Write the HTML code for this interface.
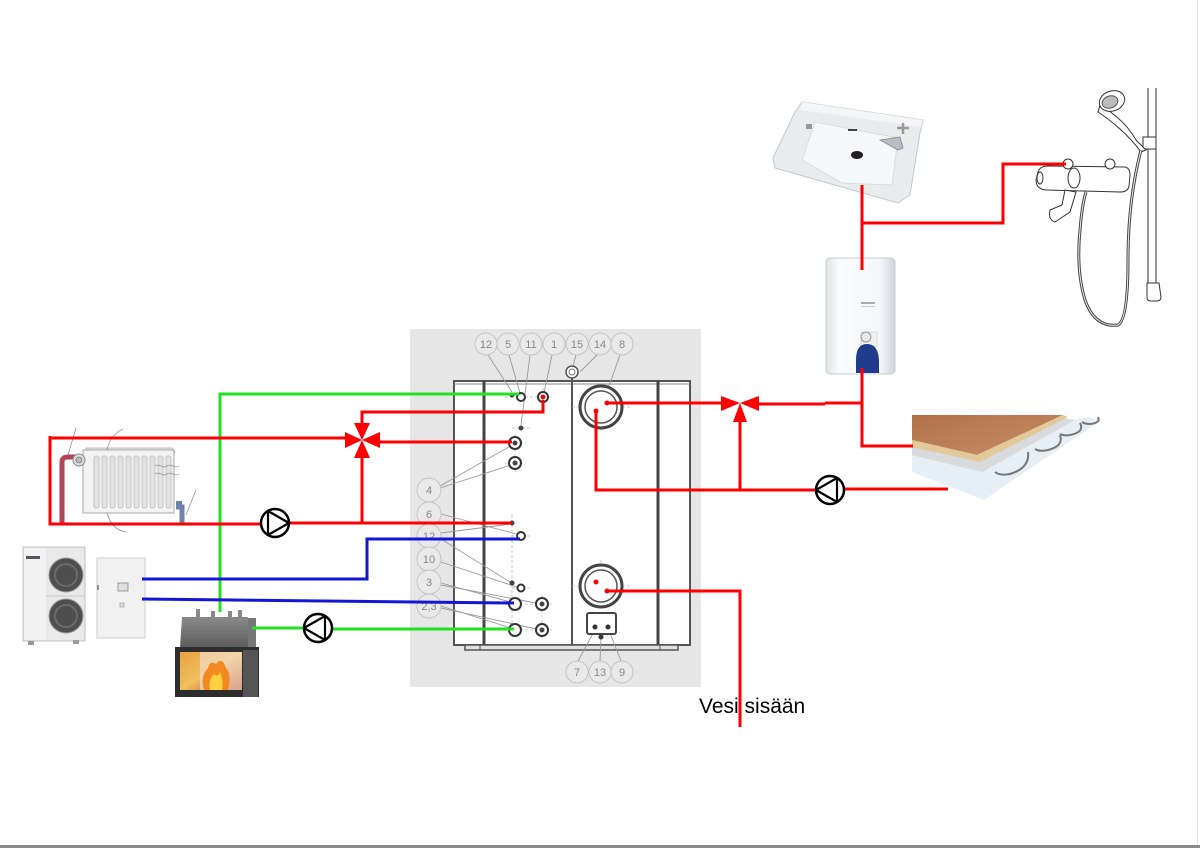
<!DOCTYPE html>
<html><head><meta charset="utf-8"><style>
html,body{margin:0;padding:0;background:#fff;}
svg{display:block;}
text{font-family:"Liberation Sans",Arial,sans-serif;}
</style></head><body>
<svg width="1200" height="848" viewBox="0 0 1200 848" xmlns="http://www.w3.org/2000/svg">
<defs>
<linearGradient id="radpipe" x1="0" x2="1" y1="0" y2="0"><stop offset="0" stop-color="#b8404c"/><stop offset="0.6" stop-color="#9a6a80"/><stop offset="1" stop-color="#6a80b0"/></linearGradient>
<linearGradient id="fire" x1="0" x2="1" y1="0" y2="1"><stop offset="0" stop-color="#e8a040"/><stop offset="0.5" stop-color="#f0c060"/><stop offset="1" stop-color="#b85020"/></linearGradient>
<linearGradient id="fpTop" x1="0" x2="0" y1="0" y2="1"><stop offset="0" stop-color="#8a8a8a"/><stop offset="1" stop-color="#5c5c5c"/></linearGradient>
<linearGradient id="wood" x1="0" x2="1" y1="0" y2="1"><stop offset="0" stop-color="#b07048"/><stop offset="1" stop-color="#c89068"/></linearGradient>
<linearGradient id="heater" x1="0" x2="1"><stop offset="0" stop-color="#dfe3e8"/><stop offset="0.2" stop-color="#fafbfc"/><stop offset="0.8" stop-color="#f4f6f8"/><stop offset="1" stop-color="#cfd4da"/></linearGradient>
</defs>
<rect width="1200" height="848" fill="#fff"/>
<!-- page edges -->
<line x1="1197.5" y1="0" x2="1197.5" y2="845" stroke="#e2e2e2" stroke-width="1"/>
<rect x="0" y="845" width="1200" height="3" fill="#8a8a8a"/>

<!-- ===== TANK ===== -->
<rect x="410" y="329" width="291" height="358" fill="#e6e6e6"/>
<rect x="454" y="381" width="236" height="264" fill="#fff" stroke="#555" stroke-width="2"/>
<line x1="454" y1="384" x2="690" y2="384" stroke="#888" stroke-width="1"/>
<line x1="484" y1="381" x2="484" y2="645" stroke="#444" stroke-width="3"/>
<line x1="572" y1="378" x2="572" y2="645" stroke="#555" stroke-width="2"/>
<line x1="658" y1="381" x2="658" y2="645" stroke="#444" stroke-width="3"/>
<rect x="465" y="645" width="213" height="5" fill="#e0e0e0" stroke="#555" stroke-width="1.5"/>
<line x1="480" y1="645" x2="480" y2="650" stroke="#555"/><line x1="660" y1="645" x2="660" y2="650" stroke="#555"/>
<!-- 15 fitting -->
<circle cx="572" cy="372" r="6" fill="#fff" stroke="#555" stroke-width="1.5"/>
<circle cx="572" cy="372" r="3" fill="none" stroke="#777" stroke-width="1"/>

<!-- leader lines -->
<g stroke="#9a9a9a" stroke-width="0.9" fill="none">
<line x1="488" y1="355" x2="512" y2="392"/>
<line x1="509" y1="355" x2="520" y2="393"/>
<line x1="530" y1="355" x2="521" y2="425"/>
<line x1="552" y1="355" x2="544" y2="393"/>
<line x1="576" y1="355" x2="573" y2="366"/>
<line x1="597" y1="355" x2="580" y2="372"/>
<line x1="620" y1="355" x2="604" y2="400"/>
<line x1="440" y1="486" x2="514" y2="444"/>
<line x1="440" y1="488" x2="514" y2="464"/>
<line x1="441" y1="514" x2="520" y2="535"/>
<line x1="441" y1="533" x2="511" y2="524"/>
<line x1="441" y1="539" x2="510" y2="582"/>
<line x1="441" y1="562" x2="520" y2="588"/>
<line x1="441" y1="583" x2="514" y2="603"/>
<line x1="441" y1="585" x2="541" y2="604"/>
<line x1="441" y1="606" x2="514" y2="629"/>
<line x1="441" y1="608" x2="541" y2="630"/>
<line x1="578" y1="661" x2="596" y2="628"/>
<line x1="600" y1="661" x2="601" y2="638"/>
<line x1="621" y1="661" x2="608" y2="628"/>
</g>
<!-- crosshairs -->
<g stroke="#bbb" stroke-width="0.8" stroke-dasharray="3,2" fill="none">
<line x1="505" y1="397" x2="552" y2="397"/><line x1="543" y1="388" x2="543" y2="406"/>
<line x1="512" y1="428" x2="530" y2="428"/>
<line x1="505" y1="443" x2="526" y2="443"/><line x1="515" y1="434" x2="515" y2="472"/>
<line x1="505" y1="463" x2="526" y2="463"/>
<line x1="572" y1="407" x2="630" y2="407"/><line x1="601" y1="383" x2="601" y2="433"/>
<line x1="572" y1="586" x2="630" y2="586"/><line x1="601" y1="560" x2="601" y2="610"/>
<line x1="512" y1="515" x2="512" y2="640"/><line x1="542" y1="595" x2="542" y2="640"/>
<line x1="505" y1="604" x2="552" y2="604"/><line x1="505" y1="630" x2="552" y2="630"/>
<line x1="512" y1="536" x2="530" y2="536"/><line x1="512" y1="588" x2="530" y2="588"/>
</g>
<!-- ports -->
<g fill="#fff" stroke="#333" stroke-width="2">
<circle cx="521" cy="397" r="4"/>
<circle cx="543" cy="397" r="5"/>
<circle cx="515" cy="443" r="6"/>
<circle cx="515" cy="463" r="6"/>
<circle cx="521" cy="536" r="4"/>
<circle cx="521" cy="588" r="3.5"/>
<circle cx="515" cy="604" r="6"/>
<circle cx="542" cy="604" r="6"/>
<circle cx="515" cy="630" r="6"/>
<circle cx="542" cy="630" r="6"/>
</g>
<g fill="#444">
<circle cx="512" cy="395" r="2.5"/>
<circle cx="521" cy="428" r="2.5"/>
<circle cx="512" cy="523" r="2.5"/>
<circle cx="512" cy="583" r="2.5"/>
<circle cx="515" cy="443" r="2.5"/><circle cx="515" cy="463" r="2.5"/>
<circle cx="542" cy="604" r="2.5"/><circle cx="542" cy="630" r="2.5"/>
</g>
<!-- big coils -->
<circle cx="601" cy="407" r="21" fill="#fff" stroke="#444" stroke-width="3"/>
<circle cx="601" cy="407" r="16" fill="#fff" stroke="#555" stroke-width="1.5"/>
<circle cx="601" cy="586" r="21" fill="#fff" stroke="#444" stroke-width="3"/>
<circle cx="601" cy="586" r="16" fill="#fff" stroke="#555" stroke-width="1.5"/>
<rect x="587" y="613" width="29" height="21" rx="2" fill="#fff" stroke="#444" stroke-width="2"/>
<circle cx="595" cy="627" r="2.5" fill="#333"/><circle cx="608" cy="627" r="2.5" fill="#333"/>
<circle cx="601" cy="637" r="2.5" fill="#333"/>

<!-- label circles -->
<g fill="#e9e9e9" stroke="#c4c4c4" stroke-width="1">
<circle cx="486" cy="344" r="11"/><circle cx="508" cy="344" r="11"/><circle cx="531" cy="344" r="11"/>
<circle cx="554" cy="344" r="11"/><circle cx="577" cy="344" r="11"/><circle cx="600" cy="344" r="11"/>
<circle cx="622" cy="344" r="11"/>
<circle cx="429" cy="490" r="12"/><circle cx="429" cy="514" r="12"/><circle cx="429" cy="536" r="12"/>
<circle cx="429" cy="559" r="12"/><circle cx="429" cy="582" r="12"/><circle cx="429" cy="606" r="12"/>
<circle cx="577" cy="672" r="11"/><circle cx="600" cy="672" r="11"/><circle cx="622" cy="672" r="11"/>
</g>
<g fill="#888" font-size="11" text-anchor="middle">
<text x="486" y="348">12</text><text x="508" y="348">5</text><text x="531" y="348">11</text>
<text x="554" y="348">1</text><text x="577" y="348">15</text><text x="600" y="348">14</text>
<text x="622" y="348">8</text>
<text x="429" y="494">4</text><text x="429" y="518">6</text><text x="429" y="540">12</text>
<text x="429" y="563">10</text><text x="429" y="586">3</text><text x="429" y="610">2,3</text>
<text x="577" y="676">7</text><text x="600" y="676">13</text><text x="622" y="676">9</text>
</g>

<!-- ===== RADIATOR ===== -->
<g>
<path d="M50 524 H190" stroke="url(#radpipe)" stroke-width="5" fill="none"/>
<path d="M62 524 V462 Q62 457 68 457 H78" stroke="#b24454" stroke-width="5" fill="none"/>
<path d="M182 524 V507 H176" stroke="#6f82ae" stroke-width="5" fill="none"/>
<rect x="176" y="501" width="6" height="6" fill="#6f82ae"/>
<polygon points="86,448 172,448 175,452 89,452" fill="#e4e4e4" stroke="#aaa" stroke-width="0.8"/>
<rect x="83" y="450" width="91" height="63" fill="#f3f3f3" stroke="#aaa" stroke-width="1"/>
<g fill="#e3e3e3" stroke="#bbb" stroke-width="0.8">
<rect x="94" y="456" width="5" height="52" rx="2"/><rect x="102" y="456" width="5" height="52" rx="2"/>
<rect x="110" y="456" width="5" height="52" rx="2"/><rect x="118" y="456" width="5" height="52" rx="2"/>
<rect x="126" y="456" width="5" height="52" rx="2"/><rect x="134" y="456" width="5" height="52" rx="2"/>
<rect x="142" y="456" width="5" height="52" rx="2"/><rect x="150" y="456" width="5" height="52" rx="2"/>
<rect x="158" y="456" width="5" height="52" rx="2"/><rect x="166" y="456" width="5" height="52" rx="2"/>
</g>
<circle cx="79" cy="460" r="6" fill="#ddd" stroke="#888" stroke-width="1"/>
<circle cx="79" cy="460" r="3" fill="#bbb" stroke="#777" stroke-width="0.8"/>
<g stroke="#777" stroke-width="0.6" fill="none">
<path d="M68 455 L76 428"/><path d="M107 450 Q110 435 123 429"/><path d="M107 513 Q112 530 126 532"/>
<path d="M186 515 L196 490"/>
<path d="M155 466 q3 -2 6 0 t6 0 t6 0 t6 0" /><path d="M155 474 q3 -2 6 0 t6 0 t6 0 t6 0"/>
</g>
</g>

<!-- ===== HEAT PUMP ===== -->
<g>
<rect x="23" y="547" width="62" height="94" fill="#e9e9e9" stroke="#c0c0c0" stroke-width="1"/>
<rect x="24" y="548" width="22" height="92" fill="#f2f2f2"/>
<rect x="26" y="556" width="14" height="3" fill="#556"/>
<circle cx="66" cy="575" r="17" fill="#4e4e4e" stroke="#999" stroke-width="1"/>
<circle cx="66" cy="575" r="11" fill="none" stroke="#6a6a6a" stroke-width="2"/>
<circle cx="66" cy="616" r="17" fill="#4e4e4e" stroke="#999" stroke-width="1"/>
<circle cx="66" cy="616" r="11" fill="none" stroke="#6a6a6a" stroke-width="2"/>
<line x1="46" y1="596" x2="85" y2="596" stroke="#c8c8c8"/>
<rect x="28" y="641" width="6" height="4" fill="#999"/><rect x="73" y="640" width="6" height="4" fill="#999"/>
<rect x="97" y="558" width="48" height="80" fill="#f1f1f1" stroke="#cfcfcf" stroke-width="1"/>
<rect x="118" y="583" width="10" height="8" fill="#e0e0e0" stroke="#888" stroke-width="0.8"/>
<rect x="120" y="603" width="4" height="4" fill="#ddd" stroke="#999" stroke-width="0.6"/>
<line x1="98" y1="585" x2="98" y2="590" stroke="#777" stroke-width="1.5"/>
</g>

<!-- ===== FIREPLACE ===== -->
<g>
<rect x="196" y="609" width="4" height="9" fill="#888"/><rect x="211" y="611" width="4" height="7" fill="#888"/>
<rect x="228" y="611" width="4" height="7" fill="#888"/><rect x="238" y="610" width="4" height="8" fill="#888"/>
<polygon points="182,617 248,617 251,648 180,648" fill="url(#fpTop)"/>
<rect x="248" y="618" width="8" height="30" fill="#777"/>
<rect x="175" y="647" width="84" height="50" fill="#2d2d2d"/>
<rect x="180" y="652" width="62" height="38" fill="url(#fire)"/>
<rect x="200" y="652" width="42" height="38" fill="#f3e6e6" opacity="0.55"/>
<path d="M204 690 Q200 676 208 668 Q210 660 216 664 Q222 656 226 668 Q232 674 228 690 Z" fill="#f28a20"/>
<path d="M210 690 Q208 680 214 674 Q218 678 220 672 Q224 682 222 690 Z" fill="#ffd040"/>
<rect x="243" y="650" width="15" height="47" fill="#555"/>
</g>

<!-- ===== SINK ===== -->
<g>
<polygon points="802,102 923,120 920,133 910,195 898,203 775,168 773,158 795,112" fill="#e9ebec" stroke="#c4c8cb" stroke-width="1"/>
<polygon points="802,102 923,120 921,127 800,110" fill="#f4f5f6"/>
<polygon points="815,122 898,138 892,185 842,183 802,160" fill="#f6f7f8" stroke="#d6d8da" stroke-width="0.8"/>
<ellipse cx="857" cy="155" rx="6" ry="4" fill="#222"/>
<rect x="848" y="129" width="9" height="2" fill="#444"/>
<rect x="806" y="124" width="6" height="5" fill="#999"/>
<path d="M880 140 L900 137 L903 148 L898 150 Z" fill="#b8bec4" stroke="#888" stroke-width="0.8"/>
<path d="M897 128 L909 128 M903 123 L903 134" stroke="#999" stroke-width="2.5"/>
</g>

<!-- ===== WATER HEATER ===== -->
<g>
<rect x="826" y="258" width="69" height="116" rx="4" fill="url(#heater)" stroke="#c8ccd2" stroke-width="1"/>
<rect x="861" y="302" width="14" height="2" fill="#aaa"/>
<rect x="861" y="306" width="14" height="1" fill="#ccc"/>
<rect x="861" y="332" width="16" height="14" fill="#f0f0f0" stroke="#ccc" stroke-width="0.6"/>
<circle cx="866" cy="337" r="5" fill="#e8e8e8" stroke="#999" stroke-width="1"/>
<path d="M856 373 V360 Q856 344 867 344 Q878 344 879 360 V373 Z" fill="#1f3c8c"/>
</g>

<!-- ===== SHOWER (line drawing) ===== -->
<g fill="#fff" stroke="#333" stroke-width="1">
<line x1="1148" y1="88" x2="1148" y2="288"/>
<line x1="1156" y1="88" x2="1156" y2="288"/>
<path d="M1147 283 h12 l2 14 q0 4 -4 4 h-6 q-4 0 -4 -4 z"/>
<path d="M1143 137 h13 v12 h-13 z"/>
<path d="M1100 105 Q1125 120 1136 140 L1146 150 L1141 152 Q1125 130 1098 112 Z"/>
<ellipse cx="1112" cy="101" rx="13" ry="10" transform="rotate(-20 1112 101)"/>
<ellipse cx="1110" cy="102" rx="8" ry="6" transform="rotate(-20 1110 102)" fill="#bbb" stroke="#555"/>
<path d="M1141 150 Q1128 200 1128 260 Q1128 320 1118 325 Q1095 328 1085 300 Q1076 270 1080 230 Q1082 205 1086 192" fill="none" stroke="#444" stroke-width="3"/>
<path d="M1141 150 Q1128 200 1128 260 Q1128 320 1118 325 Q1095 328 1085 300 Q1076 270 1080 230 Q1082 205 1086 192" fill="none" stroke="#eee" stroke-width="1"/>
<path d="M1038 172 Q1040 166 1048 166 L1125 167 Q1130 168 1130 175 L1129 186 Q1128 192 1120 192 L1046 190 Q1036 189 1036 180 Z"/>
<ellipse cx="1074" cy="178" rx="6" ry="10"/>
<circle cx="1068" cy="164" r="5"/><circle cx="1110" cy="164" r="5"/>
<path d="M1065 190 L1062 205 L1050 210 Q1048 220 1055 222 L1070 212 L1076 192 Z"/>
<ellipse cx="1040" cy="178" rx="3" ry="6"/>
</g>

<!-- ===== FLOOR HEATING ===== -->
<g>
<polygon points="912,447 1090,417 1100,421 984,500 912,472" fill="#e6eef6"/>
<polygon points="912,443 982,460 1063,418 1075,420 982,472 912,455" fill="#d8dadc"/>
<g fill="none" stroke="#777" stroke-width="2">
<path d="M1028 452 Q1030 468 1010 474 Q1000 476 995 472"/>
<path d="M1060 435 Q1064 446 1048 450 Q1040 452 1035 449"/>
<path d="M1080 423 Q1085 432 1070 435 Q1064 436 1060 434"/>
<path d="M1098 417 Q1101 423 1090 424 Q1085 424 1082 422"/>
</g>
<polygon points="912,415 1063,415 977,455 912,440" fill="url(#wood)"/>
<polygon points="912,440 977,455 1063,415 1068,417 980,462 912,447" fill="#e2c99a"/>
</g>

<!-- ===== PIPES ===== -->
<g fill="none" stroke-width="3" stroke-linejoin="miter">
<!-- green -->
<path d="M220 612 V394 H519" stroke="#22e022"/>
<path d="M252 628 H304 M332 629 H514" stroke="#22e022"/>
<!-- blue -->
<path d="M142 579 H367 V539 H520" stroke="#1515d8"/>
<path d="M142 599 L514 603" stroke="#1515d8"/>
<!-- red left -->
<path d="M50 438 H346" stroke="#ff0000"/>
<path d="M50 436 V524 H261" stroke="#ff0000"/>
<path d="M289 523 H512" stroke="#ff0000"/>
<path d="M362 424 V412 H543 V400" stroke="#ff0000"/>
<path d="M379 442 H512" stroke="#ff0000"/>
<path d="M362 457 V523" stroke="#ff0000"/>
<!-- red right -->
<path d="M607 403 H722" stroke="#ff0000"/>
<path d="M757 404 H825 M825 403 H863" stroke="#ff0000"/>
<path d="M862 368 V446 H913" stroke="#ff0000"/>
<path d="M740 420 V490" stroke="#ff0000"/>
<path d="M596 411 V490 H816" stroke="#ff0000"/>
<path d="M844 489 H948" stroke="#ff0000"/>
<path d="M607 591 H740 V727" stroke="#ff0000"/>
<path d="M862 185 V270" stroke="#ff0000"/>
<path d="M862 223 H1003 V164 H1066" stroke="#ff0000"/>
</g>
<g fill="#ff0000">
<circle cx="543" cy="397" r="2.5"/>
<circle cx="607" cy="403" r="2.5"/><circle cx="596" cy="411" r="2.5"/>
<circle cx="596" cy="582" r="2.5"/><circle cx="607" cy="591" r="2.5"/>
</g>
<!-- valves -->
<g fill="#ff0000">
<polygon points="345,432 345,448 362,440"/>
<polygon points="380,432 380,448 362,440"/>
<polygon points="354,423 370,423 362,440"/>
<polygon points="354,458 370,458 362,440"/>
<polygon points="721,396 721,411 740,403"/>
<polygon points="759,396 759,411 740,403"/>
<polygon points="733,422 747,422 740,403"/>
</g>
<!-- pumps -->
<g fill="#fff" stroke="#000" stroke-width="2.5">
<circle cx="275" cy="523" r="14"/>
<circle cx="318" cy="628" r="14"/>
<circle cx="830" cy="490" r="14"/>
</g>
<g fill="none" stroke="#000" stroke-width="2.2" stroke-linejoin="round">
<polygon points="289,523 268,511 268,535"/>
<polygon points="304,628 325,616 325,640"/>
<polygon points="816,490 837,478 837,502"/>
</g>

<!-- label -->
<text x="699" y="713" font-size="21" fill="#000">Vesi sisään</text>
</svg>
</body></html>
